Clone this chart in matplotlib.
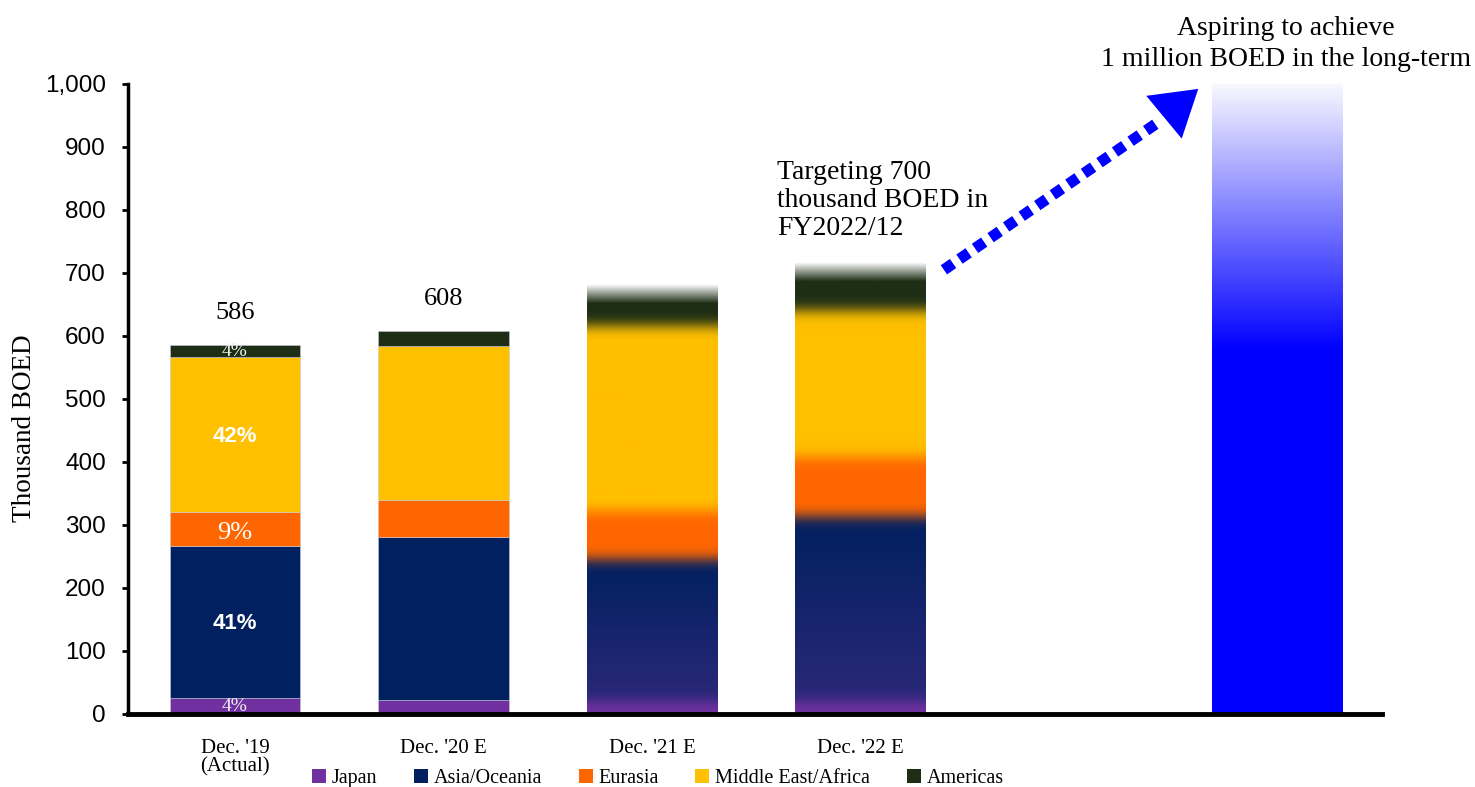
import numpy as np
import matplotlib.pyplot as plt
from matplotlib.colors import to_rgb
from matplotlib.patches import Patch

# data (thousand BOED)
periods = ["Dec. '19\n(Actual)", "Dec. '20 E", "Dec. '21 E", "Dec. '22 E"]
regions = ['Japan', 'Asia/Oceania', 'Eurasia', 'Middle East/Africa', 'Americas']
colors = ['#7030a0', '#002060', '#ff6600', '#ffc000', '#1d2e15']

japan = [25, 22, 20, 20]
asia = [242, 259, 225, 293]
eurasia = [54, 59, 77, 95]
mea = [246, 244, 294, 233]
americas = [19, 24, 66, 76]
long_term = 1000
share_19 = ['4%', '41%', '9%', '42%', '4%']

x_pos = [0, 1, 2, 3]
x_long = 5
width = 0.625

serif = 'Liberation Serif'
sans = ['Liberation Sans Narrow', 'DejaVu Sans Condensed', 'Liberation Sans']


def gradient_column(vals, cols, blur, fade, n=700):
    """Build a vertical RGBA strip with soft borders between segments."""
    total = sum(vals)
    y = np.linspace(0, total, n)
    bounds = np.cumsum(vals)
    idx = np.searchsorted(bounds, y, side='right').clip(0, len(vals) - 1)
    rgb = np.array([to_rgb(c) for c in cols])[idx]
    # asia segment a bit lighter toward the bottom, like the original
    low = np.array(to_rgb('#2a2878'))
    seg = idx == 1
    t = ((y - bounds[0]) / vals[1]).clip(0, 1)[:, None]
    rgb[seg] = (low * (1 - t) + rgb * t)[seg]
    sig = blur / total * n
    k = np.arange(-int(3 * sig), int(3 * sig) + 1)
    kern = np.exp(-0.5 * (k / sig) ** 2)
    kern /= kern.sum()
    pad = len(k) // 2
    out = np.empty_like(rgb)
    for c in range(3):
        p = np.pad(rgb[:, c], pad, mode='edge')
        out[:, c] = np.convolve(p, kern, mode='valid')
    alpha = ((total - y) / fade).clip(0, 1)
    rgba = np.column_stack([out, alpha])
    return rgba.reshape(n, 1, 4), total


fig = plt.figure(figsize=(14.75, 7.87), dpi=100)
ax = fig.add_axes([0.0868, 0.0928, 0.85, 0.8005])

# solid bars for the first two periods
bottom = np.zeros(2)
for vals, col in zip([japan, asia, eurasia, mea, americas], colors):
    v = np.array(vals[:2])
    ax.bar(x_pos[:2], v, width, bottom=bottom, color=col,
           edgecolor='#c8c8d8', linewidth=0.4, zorder=2)
    bottom += v

# blurred bars for the forecast years
for i in [2, 3]:
    vals = [japan[i], asia[i], eurasia[i], mea[i], americas[i]]
    img, total = gradient_column(vals, colors, blur=10, fade=30)
    ax.imshow(img, origin='lower', aspect='auto', interpolation='bilinear',
              extent=[x_pos[i] - width / 2, x_pos[i] + width / 2, 0, total], zorder=2)

# long-term target bar, blue fading to white
yl = np.linspace(0, long_term, 500)
a = np.where(yl < 0.58 * long_term, 1.0,
             1 - 0.97 * (yl - 0.58 * long_term) / (0.42 * long_term))
blue = np.zeros((500, 1, 4))
blue[:, 0, 2] = 1.0
blue[:, 0, 3] = a
ax.imshow(blue, origin='lower', aspect='auto', interpolation='bilinear',
          extent=[x_long - width / 2, x_long + width / 2, 0, long_term], zorder=2)

# totals above the actual bars
for i in [0, 1]:
    tot = japan[i] + asia[i] + eurasia[i] + mea[i] + americas[i]
    ax.text(x_pos[i], tot + 50, f'{tot}', ha='center', va='center',
            fontsize=19, family=serif)

# shares for Dec '19
segs = [japan[0], asia[0], eurasia[0], mea[0], americas[0]]
cum = np.cumsum([0] + segs)
for j, lab in enumerate(share_19):
    yc = (cum[j] + cum[j + 1]) / 2
    if lab in ('41%', '42%'):
        ax.text(x_pos[0], yc - 3, lab, ha='center', va='center', color='white',
                fontsize=16, fontweight='bold', family=sans, zorder=4)
    elif j == 2:
        ax.text(x_pos[0], yc - 7, lab, ha='center', va='center', color='white',
                fontsize=19, family=serif, zorder=4)
    else:
        ax.text(x_pos[0], yc - 1, lab, ha='center', va='center', color='#eeeeee',
                fontsize=14, family=serif, zorder=4)

# dotted arrow toward the long-term goal
ax.plot([3.40, 4.44], [705, 942], color='blue', lw=8,
        dashes=(1.0, 0.7), solid_capstyle='butt', zorder=3)
ax.annotate('', xy=(4.63, 995), xytext=(4.40, 932),
            arrowprops=dict(arrowstyle='-|>,head_length=1.6,head_width=1.0',
                            color='blue', lw=0, mutation_scale=20), zorder=3)

ax.text(2.60, 879, 'Targeting 700\nthousand BOED in\nFY2022/12', ha='left', va='top',
        fontsize=20, family=serif, linespacing=1.15)
ax.text(5.04, 1063, 'Aspiring to achieve\n1 million BOED in the long-term',
        ha='center', va='center', fontsize=20, family=serif, linespacing=1.3,
        clip_on=False)

# axes styling
ax.set_xlim(-0.513, 5.5)
ax.set_ylim(0, 1000)
ax.set_yticks(np.arange(0, 1001, 100))
ax.set_yticklabels([f'{v:,}' for v in range(0, 1001, 100)],
                   fontsize=17.5, family='Liberation Sans')
ax.set_xticks(x_pos)
ax.set_xticklabels(periods, fontsize=15, family=serif, linespacing=0.95)
ax.tick_params(axis='x', length=0, pad=18)
ax.tick_params(axis='y', length=4, width=2, direction='out', pad=12)
for s in ['top', 'right']:
    ax.spines[s].set_visible(False)
ax.spines['left'].set_linewidth(2.5)
ax.spines['bottom'].set_linewidth(3.5)
ax.set_ylabel('Thousand BOED', fontsize=19.5, family=serif)
ax.yaxis.set_label_coords(-0.073, 0.454)

handles = [Patch(facecolor=c, edgecolor='none') for c in colors]
fig.legend(handles, regions, loc='lower center', bbox_to_anchor=(0.446, -0.024),
           ncol=5, frameon=False, prop={'family': serif, 'size': 14.5},
           handlelength=0.7, handleheight=0.7, handletextpad=0.3, columnspacing=1.8)

fig.savefig('out.png', dpi=100)
